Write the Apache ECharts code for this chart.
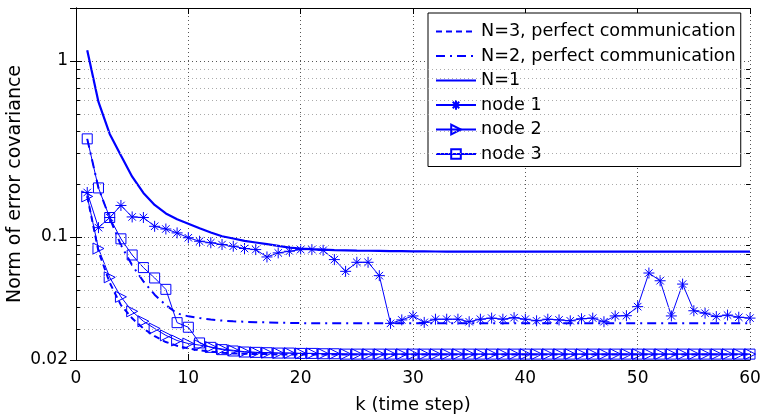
<!DOCTYPE html>
<html>
<head>
<meta charset="utf-8">
<title>Norm of error covariance</title>
<script src="https://cdn.jsdelivr.net/npm/echarts@6.0.0/dist/echarts.min.js"></script>
<style>
  html, body { margin: 0; padding: 0; background: #fff; }
  #chart { width: 760px; height: 417px; }
</style>
</head>
<body>
<div id="chart"></div>
<script>
// values, one per time step k = 1..60
var n3Perfect = [0.170, 0.083, 0.055, 0.041, 0.0345, 0.0302, 0.0273, 0.0253, 0.0241, 0.0233,
  0.0227, 0.0223, 0.0220, 0.0218, 0.0217, 0.0216, 0.0216, 0.0215, 0.0215, 0.0215,
  0.0215, 0.0215, 0.0215, 0.0215, 0.0215, 0.0215, 0.0215, 0.0215, 0.0215, 0.0215,
  0.0215, 0.0215, 0.0215, 0.0215, 0.0215, 0.0215, 0.0215, 0.0215, 0.0215, 0.0215,
  0.0215, 0.0215, 0.0215, 0.0215, 0.0215, 0.0215, 0.0215, 0.0215, 0.0215, 0.0215,
  0.0215, 0.0215, 0.0215, 0.0215, 0.0215, 0.0215, 0.0215, 0.0215, 0.0215, 0.0215];
var n2Perfect = [0.361, 0.190, 0.128, 0.090, 0.069, 0.056, 0.047, 0.041, 0.0368, 0.0354,
  0.0346, 0.0340, 0.0335, 0.0332, 0.0330, 0.0328, 0.0327, 0.0326, 0.0325, 0.0324,
  0.0323, 0.0323, 0.0323, 0.0323, 0.0323, 0.0323, 0.0323, 0.0323, 0.0323, 0.0323,
  0.0323, 0.0323, 0.0323, 0.0323, 0.0323, 0.0323, 0.0323, 0.0323, 0.0323, 0.0323,
  0.0323, 0.0323, 0.0323, 0.0323, 0.0323, 0.0323, 0.0323, 0.0323, 0.0323, 0.0323,
  0.0323, 0.0323, 0.0323, 0.0323, 0.0323, 0.0323, 0.0323, 0.0323, 0.0323, 0.0323];
var n1 = [1.15, 0.585, 0.385, 0.290, 0.220, 0.178, 0.152, 0.136, 0.126, 0.119,
  0.112, 0.106, 0.101, 0.098, 0.095, 0.093, 0.091, 0.089, 0.0870, 0.0860,
  0.0853, 0.0848, 0.0843, 0.0840, 0.0837, 0.0835, 0.0833, 0.0831, 0.0830, 0.0829,
  0.0828, 0.0827, 0.0826, 0.0826, 0.0825, 0.0825, 0.0825, 0.0825, 0.0825, 0.0825,
  0.0825, 0.0825, 0.0825, 0.0825, 0.0825, 0.0825, 0.0825, 0.0825, 0.0825, 0.0825,
  0.0825, 0.0825, 0.0825, 0.0825, 0.0825, 0.0825, 0.0825, 0.0825, 0.0825, 0.0825];
var node1 = [0.179, 0.113, 0.129, 0.151, 0.130, 0.129, 0.115, 0.111, 0.1055, 0.099,
  0.0946, 0.0927, 0.0906, 0.0886, 0.0860, 0.0848, 0.0770, 0.0812, 0.0830, 0.0848,
  0.0848, 0.0840, 0.0744, 0.0638, 0.0718, 0.0718, 0.0603, 0.0323, 0.0338, 0.0356,
  0.0327, 0.0341, 0.0341, 0.0341, 0.0330, 0.0341, 0.0346, 0.0341, 0.0348, 0.0341,
  0.0334, 0.0341, 0.0338, 0.0334, 0.0343, 0.0346, 0.0330, 0.0356, 0.0357, 0.0402,
  0.0624, 0.0564, 0.0356, 0.0540, 0.0381, 0.0369, 0.0353, 0.0360, 0.0350, 0.0346];
var node2 = [0.170, 0.086, 0.059, 0.0457, 0.0378, 0.0332, 0.0302, 0.0276, 0.0258, 0.0248,
  0.0243, 0.0237, 0.0231, 0.0227, 0.0223, 0.0221, 0.0220, 0.0219, 0.0219, 0.0218,
  0.0218, 0.0217, 0.0217, 0.0216, 0.0216, 0.0216, 0.0216, 0.0216, 0.0216, 0.0216,
  0.0216, 0.0216, 0.0216, 0.0216, 0.0216, 0.0216, 0.0216, 0.0216, 0.0216, 0.0216,
  0.0216, 0.0216, 0.0216, 0.0216, 0.0216, 0.0216, 0.0216, 0.0216, 0.0216, 0.0216,
  0.0216, 0.0216, 0.0216, 0.0216, 0.0216, 0.0216, 0.0216, 0.0216, 0.0216, 0.0216];
var node3 = [0.361, 0.190, 0.129, 0.0976, 0.0790, 0.0670, 0.0585, 0.0504, 0.0326, 0.0307,
  0.0250, 0.0236, 0.0229, 0.0225, 0.0222, 0.0221, 0.0220, 0.0219, 0.0219, 0.0218,
  0.0218, 0.0217, 0.0217, 0.0216, 0.0216, 0.0216, 0.0216, 0.0216, 0.0216, 0.0216,
  0.0216, 0.0216, 0.0216, 0.0216, 0.0216, 0.0216, 0.0216, 0.0216, 0.0216, 0.0216,
  0.0216, 0.0216, 0.0216, 0.0216, 0.0216, 0.0216, 0.0216, 0.0216, 0.0216, 0.0216,
  0.0216, 0.0216, 0.0216, 0.0216, 0.0216, 0.0216, 0.0216, 0.0216, 0.0216, 0.0216];

var seriesNames = ['N=3, perfect communication', 'N=2, perfect communication', 'N=1', 'node 1', 'node 2', 'node 3'];
var yTickLabels = [0.02, 0.1, 1];
var minorLevels = [0.03, 0.04, 0.05, 0.06, 0.07, 0.08, 0.09, 0.2, 0.3, 0.4, 0.5, 0.6, 0.7, 0.8, 0.9];

var BLUE = '#0000ff';
var FONT = 'DejaVu Sans';

var asterisk = 'path://M5,0L5,10M0,5L10,5M1.6,1.6L8.4,8.4M8.4,1.6L1.6,8.4';
var triRight = 'path://M0,0L10,5L0,10Z';
var square = 'path://M0,0L10,0L10,10L0,10Z';

function pairs(values) {
  var out = [];
  for (var i = 0; i < values.length; i++) out.push([i + 1, values[i]]);
  return out;
}

// minor grid lines and the small inward ticks on left and right
var gridMarks = [];
for (var i = 0; i < minorLevels.length; i++) {
  var v = minorLevels[i];
  gridMarks.push([{ coord: [0, v] }, { coord: [60, v] }]);
}
var tickMarks = [];
for (var j = 0; j < minorLevels.length; j++) {
  var t = minorLevels[j];
  tickMarks.push([{ coord: [0, t] }, { coord: [0.35, t] }]);
  tickMarks.push([{ coord: [59.65, t] }, { coord: [60, t] }]);
}

function plainLine(name, values, width, dash) {
  return {
    name: name,
    type: 'line',
    data: pairs(values),
    symbol: 'none',
    z: 3,
    lineStyle: { color: BLUE, width: width, type: dash },
    // transparent so the legend shows only the line
    itemStyle: { color: 'rgba(0,0,0,0)', borderWidth: 0 }
  };
}

function markerLine(name, values, symbol, size) {
  return {
    name: name,
    type: 'line',
    data: pairs(values),
    symbol: symbol,
    symbolSize: size,
    showSymbol: true,
    z: 4,
    lineStyle: { color: BLUE, width: 1 },
    itemStyle: { color: 'rgba(0,0,0,0)', borderColor: BLUE, borderWidth: 1 }
  };
}

var chart = echarts.init(document.getElementById('chart'), null, { renderer: 'canvas' });

var option = {
  animation: false,
  backgroundColor: '#fff',
  textStyle: { fontFamily: FONT },
  grid: { left: 76, right: 10, top: 8, bottom: 57, containLabel: false, outerBoundsMode: 'none' },
  legend: {
    data: seriesNames,
    orient: 'vertical',
    left: 428,
    top: 13,
    itemWidth: 40,
    itemHeight: 12,
    itemGap: 5.5,
    padding: [9, 5, 3, 7],
    backgroundColor: '#fff',
    borderColor: '#000',
    borderWidth: 1,
    borderRadius: 0,
    selectedMode: false,
    textStyle: { fontFamily: FONT, fontSize: 17.6, color: '#000', lineHeight: 19 }
  },
  xAxis: [{
    type: 'value',
    min: 0,
    max: 60,
    interval: 10,
    name: 'k (time step)',
    nameLocation: 'middle',
    nameGap: 36,
    nameTextStyle: { fontFamily: FONT, fontSize: 18, color: '#000' },
    axisLine: { lineStyle: { color: '#000', width: 1 } },
    axisTick: { inside: true, length: 6, lineStyle: { color: '#000' } },
    axisLabel: { color: '#000', fontSize: 17, fontFamily: FONT, margin: 10 },
    splitLine: { show: true, lineStyle: { color: '#555', type: [1, 3], width: 1 } }
  }, {
    type: 'value',
    position: 'top',
    min: 0,
    max: 60,
    interval: 10,
    axisLine: { show: true, lineStyle: { color: '#000', width: 1 } },
    axisTick: { inside: true, length: 6, lineStyle: { color: '#000' } },
    axisLabel: { show: false },
    splitLine: { show: false }
  }],
  yAxis: [{
    type: 'log',
    logBase: 10,
    min: 0.02,
    max: 2,
    name: 'Norm of error covariance',
    nameLocation: 'middle',
    nameGap: 51,
    nameMoveOverlap: false,
    nameTextStyle: { fontFamily: FONT, fontSize: 19, color: '#000' },
    axisLine: { show: true, lineStyle: { color: '#000', width: 1 } },
    axisTick: { inside: true, length: 6, lineStyle: { color: '#000' } },
    axisLabel: {
      color: '#000', fontSize: 17, fontFamily: FONT, margin: 8,
      showMaxLabel: false,
      formatter: function (val) {
        for (var i = 0; i < yTickLabels.length; i++) {
          if (Math.abs(val - yTickLabels[i]) < yTickLabels[i] * 1e-6) return String(yTickLabels[i]);
        }
        return '';
      }
    },
    splitLine: { show: true, lineStyle: { color: '#555', type: [1, 3], width: 1 } }
  }, {
    type: 'log',
    logBase: 10,
    position: 'right',
    min: 0.02,
    max: 2,
    axisLine: { show: true, lineStyle: { color: '#000', width: 1 } },
    axisTick: { inside: true, length: 6, lineStyle: { color: '#000' } },
    axisLabel: { show: false },
    splitLine: { show: false }
  }],
  series: [
    {
      name: 'grid',
      type: 'line',
      data: [[0, 0.02]],
      symbol: 'none',
      silent: true,
      z: 1,
      lineStyle: { opacity: 0 },
      markLine: {
        silent: true,
        symbol: ['none', 'none'],
        label: { show: false },
        animation: false,
        lineStyle: { color: '#aaa', type: [1, 3], width: 1 },
        emphasis: { disabled: true },
        data: gridMarks
      }
    },
    {
      name: 'ticks',
      type: 'line',
      data: [[0, 0.02]],
      symbol: 'none',
      silent: true,
      z: 1,
      lineStyle: { opacity: 0 },
      markLine: {
        silent: true,
        symbol: ['none', 'none'],
        label: { show: false },
        animation: false,
        lineStyle: { color: '#000', type: 'solid', width: 1 },
        emphasis: { disabled: true },
        data: tickMarks
      }
    },
    plainLine(seriesNames[0], n3Perfect, 2, [6, 4]),
    plainLine(seriesNames[1], n2Perfect, 2, [9, 5, 2, 5]),
    plainLine(seriesNames[2], n1, 2.2, 'solid'),
    markerLine(seriesNames[3], node1, asterisk, 11),
    markerLine(seriesNames[4], node2, triRight, 11),
    markerLine(seriesNames[5], node3, square, 10)
  ]
};

chart.setOption(option);
</script>
</body>
</html>
